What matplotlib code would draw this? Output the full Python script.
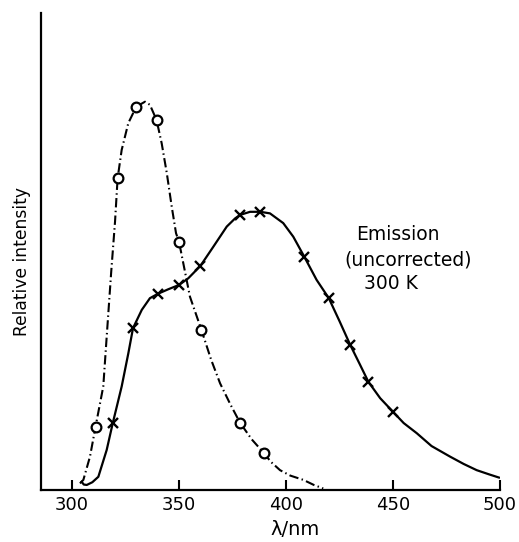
#!/usr/bin/env python3
# -*- coding: utf-8 -*-
"""
Excitation / emission spectra (300 K), relative intensity vs wavelength
"""

import matplotlib
matplotlib.use('Agg')
import matplotlib.pyplot as plt

plt.rcParams['font.family'] = ['DejaVu Sans']

# excitation: measured points (circles)
exc_nm = [311, 321.3, 330, 339.5, 350, 360.5, 378.5, 389.5]
exc_int = [16.3, 80.1, 98.5, 95.1, 63.8, 41.1, 17.3, 9.6]

# excitation: traced curve (dash-dot)
exc_curve_nm = [303.7, 305.3, 308.4, 311, 314.6, 316.2, 318.3, 320.1, 321.3,
                323.2, 326.3, 330, 334.1, 336.4, 339.5, 341.9, 344.3, 346.6, 348.6,
                350, 355.1, 360.5, 365.0, 369.2, 374.0, 378.5, 384.0, 389.5, 393.0,
                397.2, 402.0, 408.1, 413.0, 417.4]
exc_curve_int = [1.7, 2.6, 8.6, 16.3, 26.6, 39.4, 56.0, 69.0, 80.1,
                 87.4, 94.3, 98.5, 99.8, 99.0, 95.1, 89.1, 81.4, 72.8, 66.0,
                 63.8, 49.7, 41.1, 33.5, 27.4, 22.0, 17.3, 13.0, 9.6, 7.2,
                 5.1, 3.7, 2.6, 1.3, 0.4]

# emission: measured points (crosses)
emi_nm = [319, 328.5, 340, 350, 360, 378.5, 388, 408.5, 420, 430, 438.5, 450]
emi_int = [17.1, 41.6, 50.4, 52.7, 57.6, 70.7, 71.5, 60.0, 49.3, 37.3, 27.8, 20.1]

# emission: traced curve (solid)
emi_curve_nm = [304.5, 305.5, 306.9, 309.5, 312.3, 316.2, 319, 323.2, 326.3, 328.5,
                332.6, 336.4, 340, 345.0, 350, 354.3, 360, 366.0, 372.3, 376.2,
                378.5, 383.2, 388, 392.5, 398.7, 403.4, 408.5, 414.3, 420, 425.0,
                430, 434.5, 438.5, 444.0, 450, 455.0, 461.1, 468.0, 476.6, 483.0,
                489.1, 495.0, 499.5]
emi_curve_int = [2.1, 1.4, 1.3, 2.0, 3.4, 10.3, 17.1, 26.6, 35.1, 41.6,
                 46.3, 49.3, 50.4, 51.6, 52.7, 54.4, 57.6, 62.5, 67.7, 69.8,
                 70.7, 71.5, 71.5, 71.1, 68.6, 65.1, 60.0, 54.0, 49.3, 43.4,
                 37.3, 32.3, 27.8, 23.6, 20.1, 17.2, 14.6, 11.3, 8.6, 6.7,
                 5.1, 4.0, 3.2]

xticks = [300, 350, 400, 450, 500]

fig = plt.figure(figsize=(5.19, 5.42), dpi=100)
ax = fig.add_axes([41 / 519, 52 / 542, 459 / 519, 477 / 542])

ax.plot(exc_curve_nm, exc_curve_int, color='black', lw=1.5,
        linestyle=(0, (4.5, 1.6, 0.7, 1.6)), zorder=2)
ax.plot(exc_nm, exc_int, linestyle='none', marker='o', markersize=7,
        markerfacecolor='white', markeredgecolor='black', markeredgewidth=1.6, zorder=3)

ax.plot(emi_curve_nm, emi_curve_int, color='black', lw=1.6, zorder=2)
ax.plot(emi_nm, emi_int, linestyle='none', marker='x', markersize=6.5,
        color='black', markeredgewidth=1.7, zorder=3)

ax.text(452.3, 65.6, 'Emission', ha='center', va='center', fontsize=13.5)
ax.text(457, 59.1, '(uncorrected)', ha='center', va='center', fontsize=13.5)
ax.text(449.1, 53.2, '300 K', ha='center', va='center', fontsize=13.5)

ax.set_xlim(285.5, 500)
ax.set_ylim(0, 122.6)
ax.set_xticks(xticks)
ax.set_yticks([])
ax.tick_params(axis='x', direction='in', length=7, width=1.5, labelsize=13, pad=4)

for side in ['top', 'right']:
    ax.spines[side].set_visible(False)
for side in ['left', 'bottom']:
    ax.spines[side].set_linewidth(1.6)

ax.set_xlabel('λ/nm', fontsize=14)
ax.xaxis.set_label_coords((295 - 41) / 459, -0.062)
ax.set_ylabel('Relative intensity', fontsize=12.3)
ax.yaxis.set_label_coords(-0.022, 0.48)

plt.savefig('out.png', dpi=100, facecolor='white')
plt.close()
